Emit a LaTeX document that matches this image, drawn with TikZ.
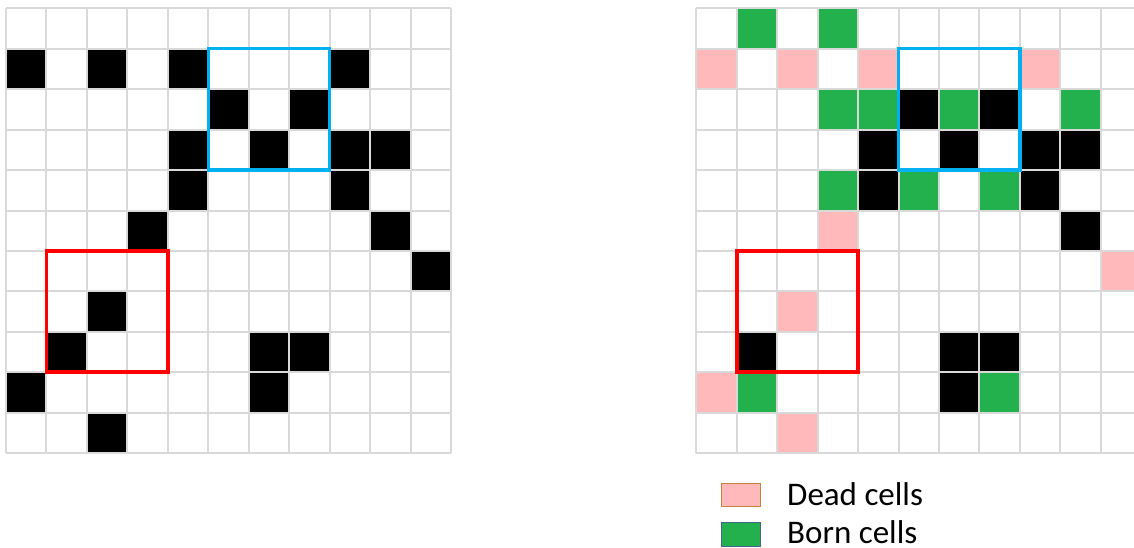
\documentclass[tikz,border=0pt]{standalone}
\usepackage{fontspec}
\setmainfont{Carlito}
\definecolor{gridgray}{RGB}{217,217,217}
\definecolor{deadpink}{RGB}{255,185,186}
\definecolor{borngreen}{RGB}{35,177,77}
\definecolor{frameblue}{RGB}{0,176,240}
\definecolor{framered}{RGB}{255,0,0}
\definecolor{deadedge}{RGB}{200,130,60}
\definecolor{bornedge}{RGB}{70,100,140}
\begin{document}
\begin{tikzpicture}[x=1pt,y=-1pt,
  gridline/.style={draw=gridgray,line width=2pt},
  alivecell/.style={fill=black},
  deadcell/.style={fill=deadpink},
  borncell/.style={fill=borngreen},
  bluebox/.style={draw=frameblue,line width=3.5pt},
  redbox/.style={draw=framered,line width=3.8pt},
  legendtext/.style={font=\fontsize{33}{40}\selectfont,anchor=base west,inner sep=0pt,text depth=0pt}]
\useasboundingbox[fill=white] (0,0) rectangle (1134,548);
\def\cs{40.45}
% ---------------- left grid ----------------
\begin{scope}[shift={(6,8.3)}]
  \foreach \rr/\cc in {1/0,1/2,1/4,1/8,2/5,2/7,3/4,3/6,3/8,3/9,4/4,4/8,5/3,5/9,6/10,7/2,8/1,8/6,8/7,9/0,9/6,10/2}
    \fill[alivecell] (\cc*\cs,\rr*\cs) rectangle ++(\cs,\cs);
  \foreach \i in {0,...,11} {
    \draw[gridline] (\i*\cs,0) -- (\i*\cs,11*\cs);
    \draw[gridline] (0,\i*\cs) -- (11*\cs,\i*\cs);
  }
  \draw[bluebox] (5*\cs,1*\cs) rectangle (8*\cs,4*\cs);
  \draw[redbox] (1*\cs,6*\cs) rectangle (4*\cs,9*\cs);
\end{scope}
% ---------------- right grid ----------------
\begin{scope}
  \clip (690,0) rectangle (1134,548);
  \begin{scope}[shift={(696.3,8.3)}]
    \foreach \rr/\cc in {0/1,0/3,2/3,2/4,2/6,2/9,4/3,4/5,4/7,9/1,9/7}
      \fill[borncell] (\cc*\cs,\rr*\cs) rectangle ++(\cs,\cs);
    \foreach \rr/\cc in {1/0,1/2,1/4,1/8,5/3,6/10,7/2,9/0,10/2}
      \fill[deadcell] (\cc*\cs,\rr*\cs) rectangle ++(\cs,\cs);
    \foreach \rr/\cc in {2/5,2/7,3/4,3/6,3/8,3/9,4/4,4/8,5/9,8/1,8/6,8/7,9/6}
      \fill[alivecell] (\cc*\cs,\rr*\cs) rectangle ++(\cs,\cs);
    \foreach \i in {0,...,11} {
      \draw[gridline] (\i*\cs,0) -- (\i*\cs,11*\cs);
      \draw[gridline] (0,\i*\cs) -- (11*\cs,\i*\cs);
    }
    \draw[bluebox] (5*\cs,1*\cs) rectangle (8*\cs,4*\cs);
    \draw[redbox] (1*\cs,6*\cs) rectangle (4*\cs,9*\cs);
  \end{scope}
\end{scope}
% ---------------- legend ----------------
\filldraw[fill=deadpink,draw=deadedge,line width=1pt] (721,483.5) rectangle (760,506.5);
\filldraw[fill=borngreen,draw=bornedge,line width=1pt] (721,522.5) rectangle (760,546);
\node[legendtext] (dead) at (787,505) {Dead cells};
\node[legendtext] (born) at (787,543.5) {Born cells};
\end{tikzpicture}
\end{document}
